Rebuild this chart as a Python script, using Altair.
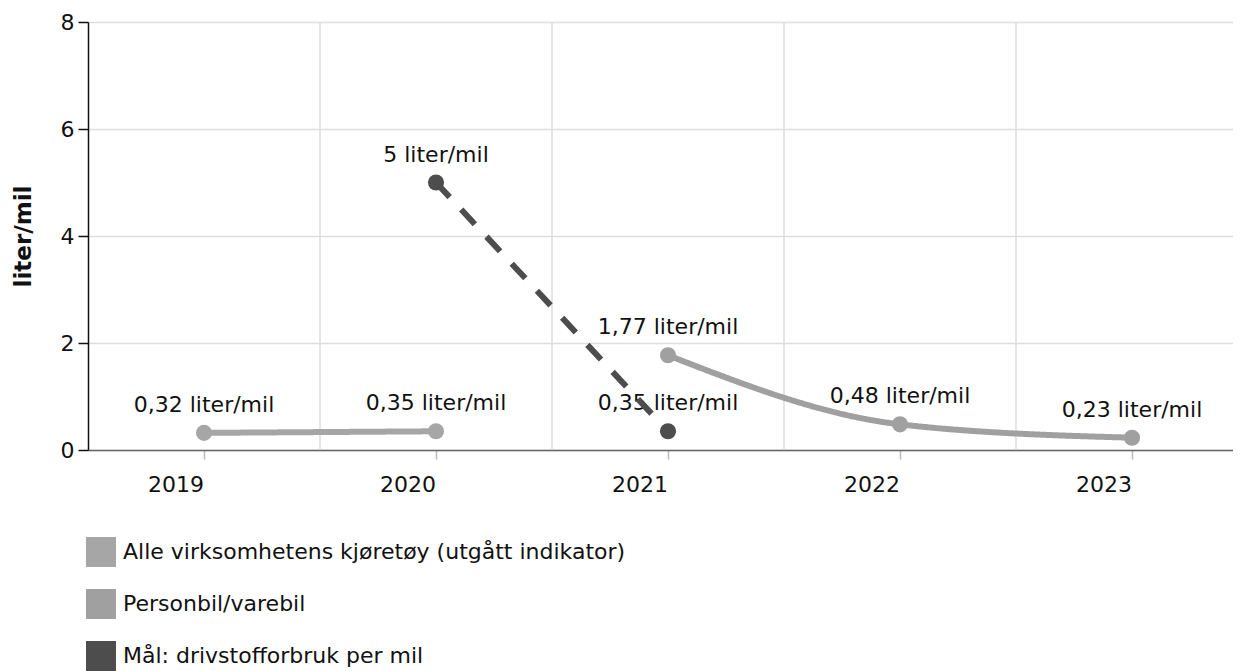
import altair as alt
import pandas as pd

years = ["2019", "2020", "2021", "2022", "2023"]
series_names = [
    "Alle virksomhetens kjøretøy (utgått indikator)",
    "Personbil/varebil",
    "Mål: drivstofforbruk per mil",
]
series_colors = ["#a6a6a6", "#a0a0a0", "#4d4d4d"]

alle_years = ["2019", "2020"]
alle_values = [0.32, 0.35]
person_years = ["2021", "2022", "2023"]
person_values = [1.77, 0.48, 0.23]
maal_years = ["2020", "2021"]
maal_values = [5, 0.35]


def lab(v):
    return ("%g" % v).replace(".", ",") + " liter/mil"


rows = []
for name, ys, vs in [
    (series_names[0], alle_years, alle_values),
    (series_names[1], person_years, person_values),
    (series_names[2], maal_years, maal_values),
]:
    for y, v in zip(ys, vs):
        rows.append({"year": y, "value": v, "series": name, "label": lab(v)})
df = pd.DataFrame(rows)
grid_df = pd.DataFrame({"year": years[1:]})

FONT = "DejaVu Sans"
FS = 22

xscale = alt.Scale(domain=years, paddingInner=0, paddingOuter=0, range=[0, 1160])
yscale = alt.Scale(domain=[0, 8])
color = alt.Color(
    "series:N",
    scale=alt.Scale(domain=series_names, range=series_colors),
    legend=alt.Legend(
        title=None,
        orient="none",
        legendX=-2,
        legendY=515,
        direction="vertical",
        symbolType="square",
        symbolSize=900,
        symbolStrokeWidth=0,
        symbolOpacity=1,
        labelFontSize=FS,
        labelFont=FONT,
        labelColor="#111",
        labelOffset=7,
        labelLimit=0,
        rowPadding=22,
        padding=0,
    ),
)

x = alt.X(
    "year:O",
    scale=xscale,
    axis=alt.Axis(
        title=None,
        labelAngle=0,
        labelFontSize=FS,
        labelFont=FONT,
        labelColor="#111",
        labelPadding=25,
        tickSize=9,
        tickColor="#bbbbbb",
        tickWidth=1.5,
        domainColor="#666666",
        domainWidth=1.5,
        grid=False,
    ),
)
y = alt.Y(
    "value:Q",
    scale=yscale,
    axis=alt.Axis(
        title="liter/mil",
        titleFontSize=23,
        titleFont=FONT,
        titleFontWeight="bold",
        titleColor="#111",
        titlePadding=25,
        values=[0, 2, 4, 6, 8],
        labelFontSize=FS,
        labelFont=FONT,
        labelColor="#111",
        labelPadding=4,
        tickSize=10,
        tickColor="#111",
        tickWidth=1.5,
        domainColor="#111",
        domainWidth=1.5,
        grid=True,
        gridColor="#dddddd",
        gridWidth=1.5,
    ),
)

base = alt.Chart(df)

vgrid = alt.Chart(grid_df).mark_rule(color="#dddddd", strokeWidth=1.5).encode(
    x=alt.X("year:O", scale=xscale, bandPosition=0),
    y=alt.datum(0),
    y2=alt.datum(8),
)

text = base.mark_text(fontSize=FS, font=FONT, color="#111", dy=-28).encode(
    x=x, y=y, text="label:N"
)

lines = base.mark_line(strokeWidth=6, interpolate="monotone").encode(
    x=x,
    y=y,
    color=color,
    strokeDash=alt.StrokeDash(
        "series:N",
        scale=alt.Scale(domain=series_names, range=[[1, 0], [1, 0], [20, 17]]),
        legend=None,
    ),
    detail="series:N",
)

points = base.mark_circle(size=260, opacity=1).encode(x=x, y=y, color=color)

chart = (
    alt.layer(vgrid, text, lines, points)
    .properties(
        width=1145,
        height=428,
        autosize=alt.AutoSizeParams(type="none"),
        padding={"left": 80, "top": 14, "right": 0, "bottom": 221},
    )
    .configure_view(strokeWidth=0)
)

chart.save("out.html", embed_options={"renderer": "svg", "actions": False})
